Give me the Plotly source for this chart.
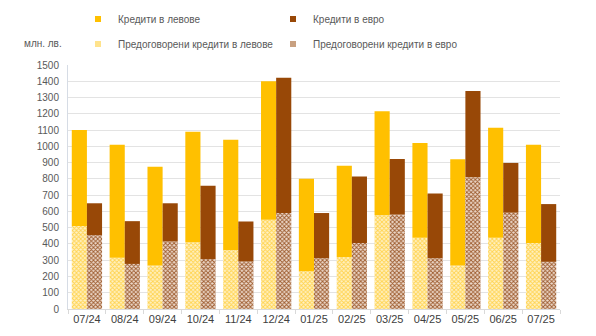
import plotly.graph_objects as go

# Months
months = ["07/24", "08/24", "09/24", "10/24", "11/24", "12/24", "01/25",
          "02/25", "03/25", "04/25", "05/25", "06/25", "07/25"]

# Totals per currency (млн. лв.)
bgn_total = [1100, 1010, 875, 1090, 1040, 1400, 800, 880, 1215, 1020, 920, 1115, 1010]
eur_total = [650, 540, 650, 758, 538, 1422, 590, 815, 922, 710, 1340, 898, 645]

# Renegotiated loans (part of the totals)
bgn_reneg = [510, 315, 268, 410, 362, 548, 232, 320, 576, 438, 268, 438, 405]
eur_reneg = [455, 277, 415, 308, 292, 590, 312, 405, 580, 312, 810, 592, 290]

bgn_new = [t - r for t, r in zip(bgn_total, bgn_reneg)]
eur_new = [t - r for t, r in zip(eur_total, eur_reneg)]

C_BGN = "#FFC000"
C_EUR = "#984807"
TXT = "#595959"
FONT = "Liberation Sans, Arial"

fig = go.Figure()

fig.add_trace(go.Bar(
    x=months, y=bgn_reneg, offsetgroup="bgn", showlegend=False,
    name="Предоговорени кредити в левове",
    marker=dict(color="white", line=dict(width=0),
                pattern=dict(shape="x", fgcolor="#FFD34D", bgcolor="#FFF1C4",
                             size=3, solidity=0.5, fillmode="replace")),
))
fig.add_trace(go.Bar(
    x=months, y=bgn_new, base=bgn_reneg, offsetgroup="bgn", showlegend=False,
    name="Кредити в левове",
    marker=dict(color=C_BGN, line=dict(width=0)),
))
fig.add_trace(go.Bar(
    x=months, y=eur_reneg, offsetgroup="eur", showlegend=False,
    name="Предоговорени кредити в евро",
    marker=dict(color="white", line=dict(width=0),
                pattern=dict(shape="x", fgcolor="#9C5A2C", bgcolor="#EDD9CB",
                             size=3, solidity=0.5, fillmode="replace")),
))
fig.add_trace(go.Bar(
    x=months, y=eur_new, base=eur_reneg, offsetgroup="eur", showlegend=False,
    name="Кредити в евро",
    marker=dict(color=C_EUR, line=dict(width=0)),
))

# Legend entries with small square swatches
legend_items = [
    ("Кредити в левове", C_BGN, "legend"),
    ("Кредити в евро", C_EUR, "legend"),
    ("Предоговорени кредити в левове", "#FFE38C", "legend2"),
    ("Предоговорени кредити в евро", "#C8A080", "legend2"),
]
for name, color, lg in legend_items:
    fig.add_trace(go.Scatter(
        x=[None], y=[None], mode="markers", name=name, legend=lg,
        marker=dict(symbol="square", size=6, color=color),
    ))

legend_common = dict(
    orientation="h", xref="container", yref="container",
    xanchor="left", yanchor="middle",
    entrywidth=150, entrywidthmode="pixels",
    font=dict(family=FONT, size=10, color=TXT),
    itemwidth=30, bgcolor="rgba(0,0,0,0)",
)

fig.update_layout(
    width=596, height=336,
    margin=dict(l=68, r=36, t=65, b=27, autoexpand=False),
    paper_bgcolor="white", plot_bgcolor="white",
    barmode="group", bargap=0.2, bargroupgap=0,
    font=dict(family=FONT, size=10, color=TXT),
    legend=dict(x=78 / 596, y=1 - 19 / 336, **legend_common),
    legend2=dict(x=78 / 596, y=1 - 44 / 336, **legend_common),
    xaxis=dict(
        showgrid=False, showline=True, linecolor="#D9D9D9", linewidth=1,
        ticks="outside", tickson="boundaries", ticklen=4, tickcolor="#D9D9D9",
        tickangle=0, automargin=False,
        tickfont=dict(family=FONT, size=11, color="#404040"),
    ),
    yaxis=dict(
        range=[0, 1500], dtick=100, showgrid=True, gridcolor="#E3E3E3",
        showline=True, linecolor="#D6DCE5", linewidth=1, automargin=False,
        ticks="", ticklabelstandoff=6,
        tickfont=dict(family=FONT, size=10, color=TXT),
        zeroline=False,
    ),
    annotations=[dict(
        text="млн. лв.", xref="paper", yref="paper",
        x=(22 - 68) / 492, y=(309 - 44) / 244, xanchor="left", yanchor="middle",
        showarrow=False, font=dict(family=FONT, size=10, color=TXT),
    )],
)

fig.write_html("out.html")
